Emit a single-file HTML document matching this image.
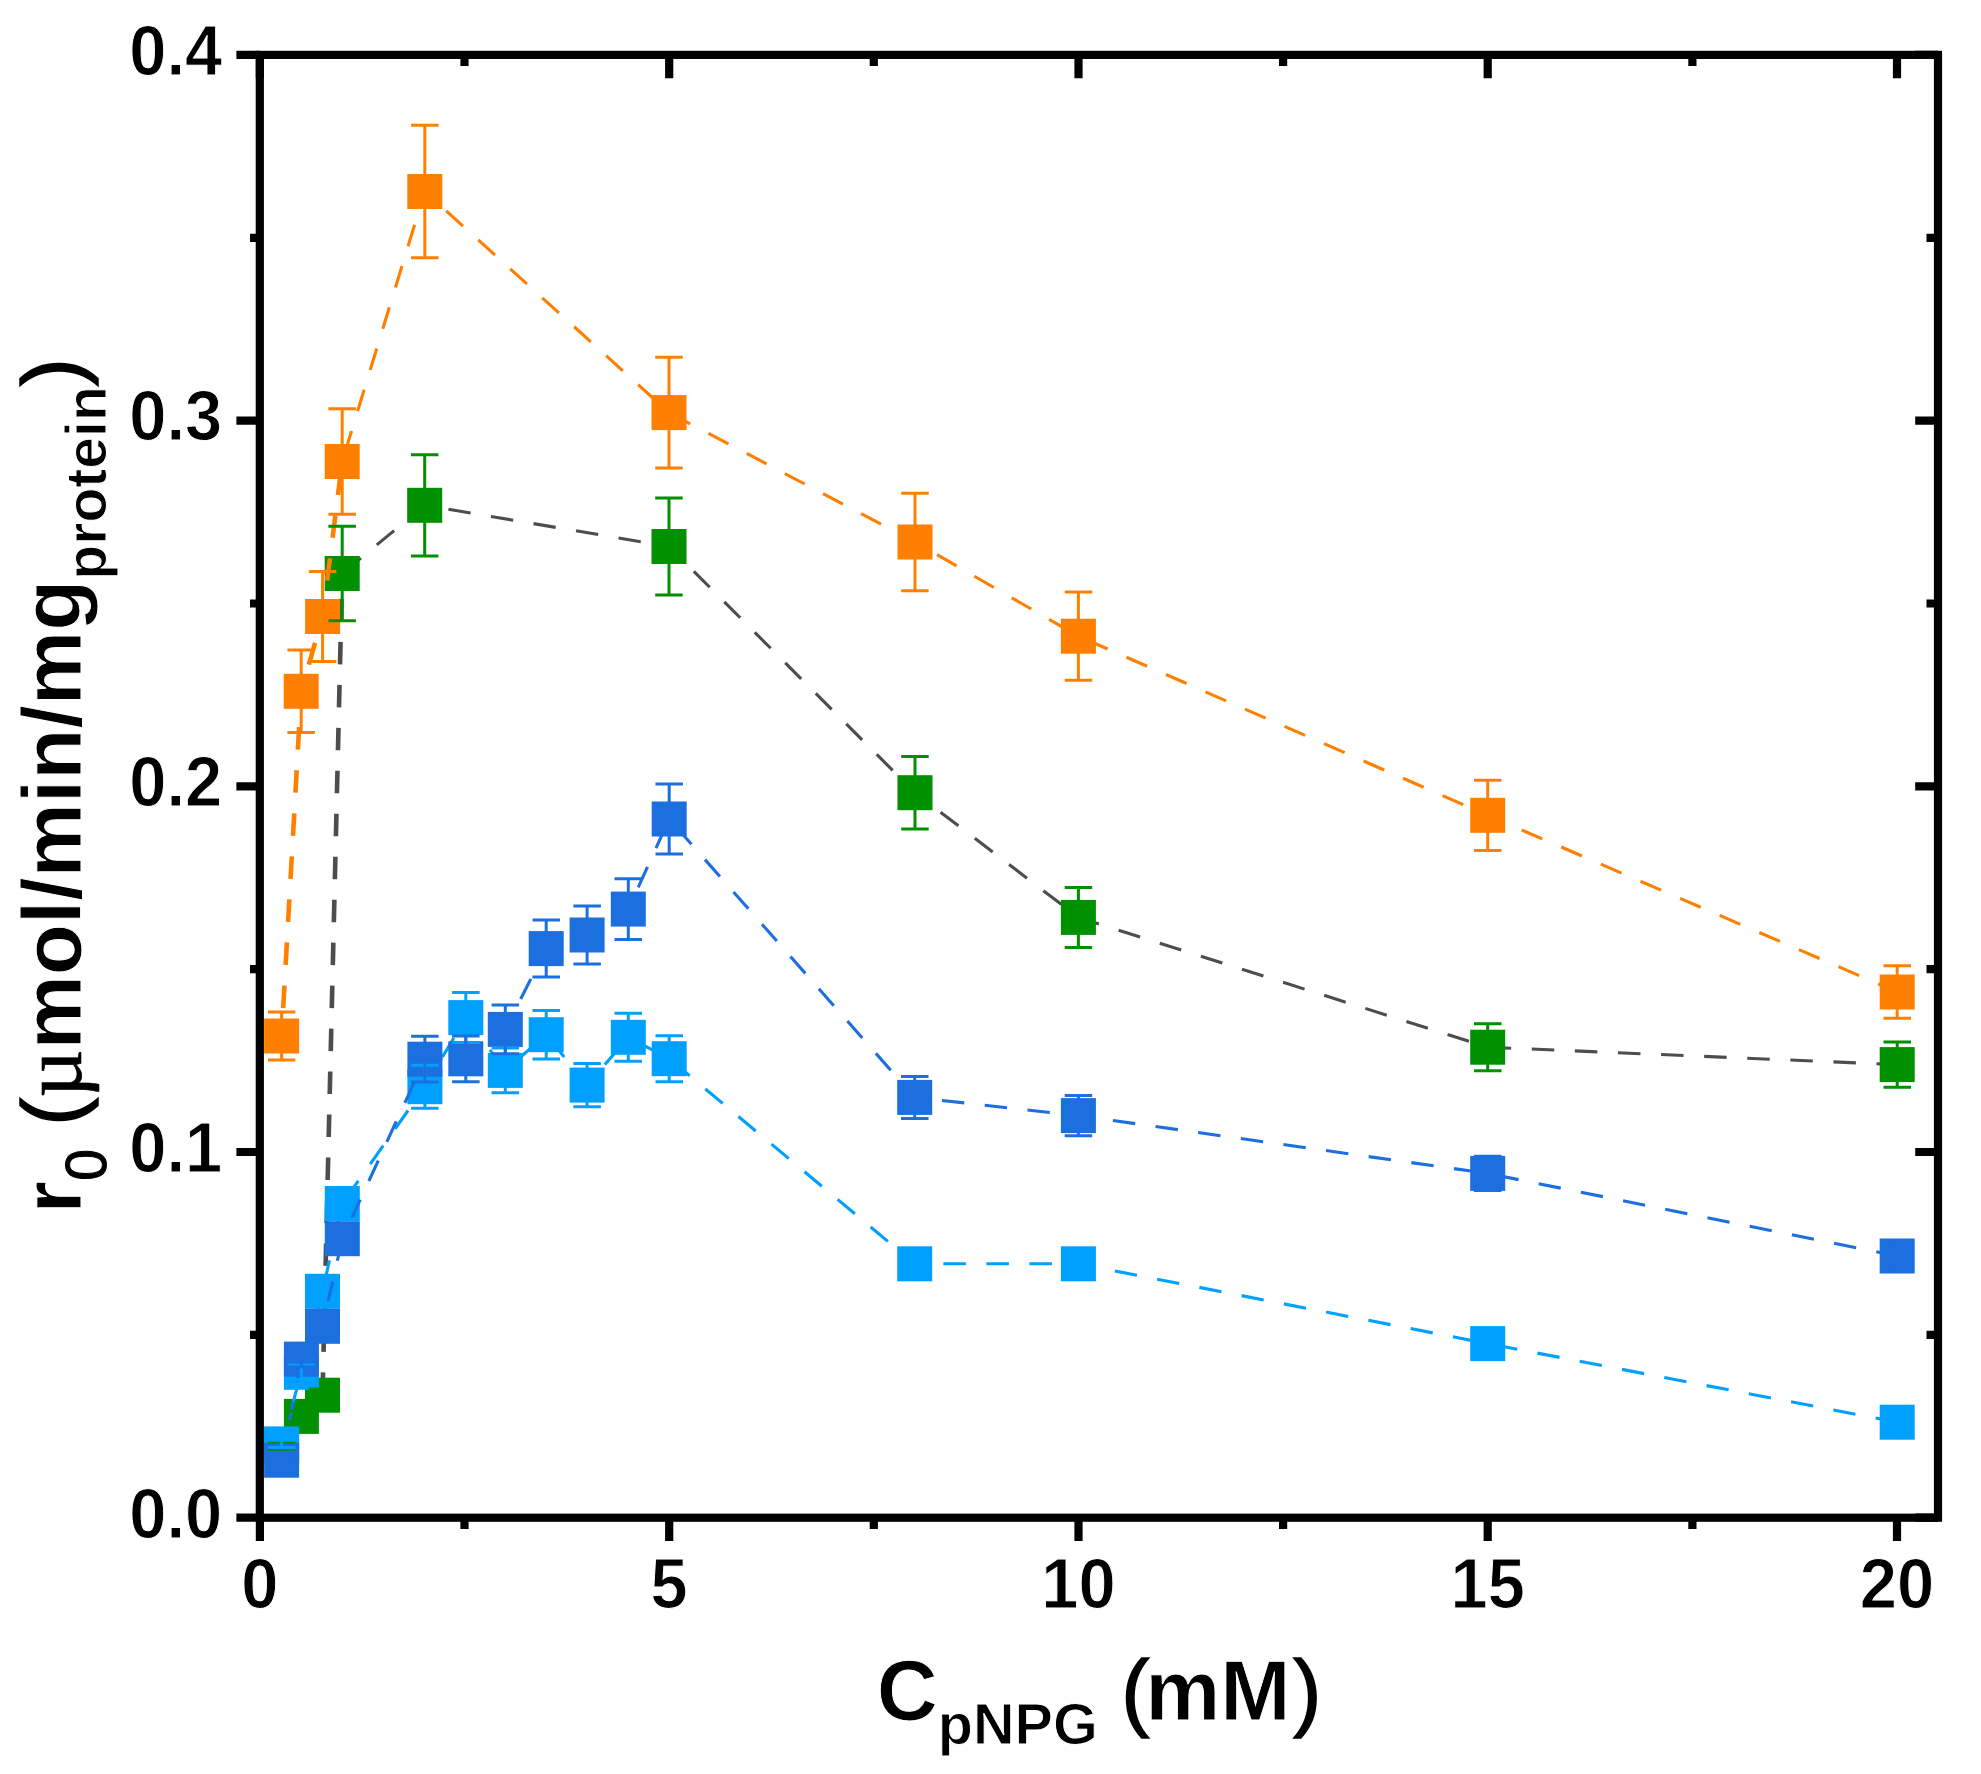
<!DOCTYPE html>
<html lang="en"><head><meta charset="utf-8"><title>r0 vs C pNPG</title>
<style>html,body{margin:0;padding:0;background:#fff}svg{display:block}text{font-family:"Liberation Sans",Arial,Helvetica,sans-serif;font-weight:700;fill:#000;stroke:#fff;stroke-width:1px}.pr{font-weight:400;stroke:#000;stroke-width:1.5px}.s0{font-weight:400;stroke:#000;stroke-width:1px}.mu{font-family:"Liberation Serif","DejaVu Serif",serif;font-weight:400;stroke:#000;stroke-width:0.6px}</style>
</head><body>
<svg width="1981" height="1774" viewBox="0 0 1981 1774">
<rect x="0" y="0" width="1981" height="1774" fill="#fff"/>
<g id="green">
<polyline points="281.6,1445.6 301.4,1416.4 322.5,1395.2 342.2,573.5" fill="none" stroke="#4d4d4d" stroke-width="4.6" stroke-dasharray="22.5 20.48" stroke-dashoffset="20.4"/>
<polyline points="342.2,573.5 424.7,505.3 669.0,546.5 915.0,792.7 1078.4,917.4 1487.7,1047.2 1897.2,1064.6" fill="none" stroke="#4d4d4d" stroke-width="3.1" stroke-dasharray="22.5 20.63" stroke-dashoffset="41.4"/>
<rect x="264.1" y="1428.1" width="35.0" height="35.0" fill="#009000"/>
<rect x="283.9" y="1398.9" width="35.0" height="35.0" fill="#009000"/>
<rect x="305.0" y="1377.7" width="35.0" height="35.0" fill="#009000"/>
<rect x="324.7" y="556.0" width="35.0" height="35.0" fill="#009000"/>
<rect x="407.2" y="487.8" width="35.0" height="35.0" fill="#009000"/>
<rect x="651.5" y="529.0" width="35.0" height="35.0" fill="#009000"/>
<rect x="897.5" y="775.2" width="35.0" height="35.0" fill="#009000"/>
<rect x="1060.9" y="899.9" width="35.0" height="35.0" fill="#009000"/>
<rect x="1470.2" y="1029.7" width="35.0" height="35.0" fill="#009000"/>
<rect x="1879.7" y="1047.1" width="35.0" height="35.0" fill="#009000"/>
</g>
<g id="orange">
<polyline points="281.6,1036.0 301.2,691.3 322.6,616.5 342.2,461.5" fill="none" stroke="#ff8000" stroke-width="4.6" stroke-dasharray="22.5 20.63" stroke-dashoffset="15.1"/>
<polyline points="342.2,461.5 424.8,191.5 669.0,412.6 915.0,542.0 1078.4,636.2 1487.7,815.3 1897.2,992.0" fill="none" stroke="#ff8000" stroke-width="3.1" stroke-dasharray="22.5 20.63" stroke-dashoffset="33.7"/>
<rect x="264.1" y="1018.5" width="35.0" height="35.0" fill="#ff8000"/>
<rect x="283.7" y="673.8" width="35.0" height="35.0" fill="#ff8000"/>
<rect x="305.1" y="599.0" width="35.0" height="35.0" fill="#ff8000"/>
<rect x="324.7" y="444.0" width="35.0" height="35.0" fill="#ff8000"/>
<rect x="407.3" y="174.0" width="35.0" height="35.0" fill="#ff8000"/>
<rect x="651.5" y="395.1" width="35.0" height="35.0" fill="#ff8000"/>
<rect x="897.5" y="524.5" width="35.0" height="35.0" fill="#ff8000"/>
<rect x="1060.9" y="618.7" width="35.0" height="35.0" fill="#ff8000"/>
<rect x="1470.2" y="797.8" width="35.0" height="35.0" fill="#ff8000"/>
<rect x="1879.7" y="974.5" width="35.0" height="35.0" fill="#ff8000"/>
</g>
<g id="lblue">
<polyline points="281.6,1443.9 301.4,1372.3 322.5,1291.3 342.3,1203.5 424.9,1086.7 465.8,1017.6 505.3,1070.4 546.2,1034.7 587.1,1085.1 628.3,1037.3 669.2,1058.7 914.7,1263.8 1078.4,1263.8 1487.7,1343.6 1897.2,1422.2" fill="none" stroke="#00a0ff" stroke-width="3.1" stroke-dasharray="22.5 20.55" stroke-dashoffset="5.0"/>
<rect x="264.1" y="1426.4" width="35.0" height="35.0" fill="#00a0ff"/>
<rect x="283.9" y="1354.8" width="35.0" height="35.0" fill="#00a0ff"/>
<rect x="305.0" y="1273.8" width="35.0" height="35.0" fill="#00a0ff"/>
<rect x="324.8" y="1186.0" width="35.0" height="35.0" fill="#00a0ff"/>
<rect x="407.4" y="1069.2" width="35.0" height="35.0" fill="#00a0ff"/>
<rect x="448.3" y="1000.1" width="35.0" height="35.0" fill="#00a0ff"/>
<rect x="487.8" y="1052.9" width="35.0" height="35.0" fill="#00a0ff"/>
<rect x="528.7" y="1017.2" width="35.0" height="35.0" fill="#00a0ff"/>
<rect x="569.6" y="1067.6" width="35.0" height="35.0" fill="#00a0ff"/>
<rect x="610.8" y="1019.8" width="35.0" height="35.0" fill="#00a0ff"/>
<rect x="651.7" y="1041.2" width="35.0" height="35.0" fill="#00a0ff"/>
<rect x="897.2" y="1246.3" width="35.0" height="35.0" fill="#00a0ff"/>
<rect x="1060.9" y="1246.3" width="35.0" height="35.0" fill="#00a0ff"/>
<rect x="1470.2" y="1326.1" width="35.0" height="35.0" fill="#00a0ff"/>
<rect x="1879.7" y="1404.7" width="35.0" height="35.0" fill="#00a0ff"/>
</g>
<g id="dblue">
<polyline points="281.6,1460.2 301.4,1359.1 322.5,1326.3 342.3,1238.7 424.9,1059.2 465.8,1058.8 505.3,1029.4 546.2,948.6 587.1,935.0 628.3,909.1 669.2,819.0 914.7,1097.4 1078.4,1115.6 1487.7,1173.4 1897.2,1256.0" fill="none" stroke="#1c6fde" stroke-width="3.1" stroke-dasharray="22.5 20.55" stroke-dashoffset="6.0"/>
<rect x="264.1" y="1442.7" width="35.0" height="35.0" fill="#1c6fde"/>
<rect x="283.9" y="1341.6" width="35.0" height="35.0" fill="#1c6fde"/>
<rect x="305.0" y="1308.8" width="35.0" height="35.0" fill="#1c6fde"/>
<rect x="324.8" y="1221.2" width="35.0" height="35.0" fill="#1c6fde"/>
<rect x="407.4" y="1041.7" width="35.0" height="35.0" fill="#1c6fde"/>
<rect x="448.3" y="1041.3" width="35.0" height="35.0" fill="#1c6fde"/>
<rect x="487.8" y="1011.9" width="35.0" height="35.0" fill="#1c6fde"/>
<rect x="528.7" y="931.1" width="35.0" height="35.0" fill="#1c6fde"/>
<rect x="569.6" y="917.5" width="35.0" height="35.0" fill="#1c6fde"/>
<rect x="610.8" y="891.6" width="35.0" height="35.0" fill="#1c6fde"/>
<rect x="651.7" y="801.5" width="35.0" height="35.0" fill="#1c6fde"/>
<rect x="897.2" y="1079.9" width="35.0" height="35.0" fill="#1c6fde"/>
<rect x="1060.9" y="1098.1" width="35.0" height="35.0" fill="#1c6fde"/>
<rect x="1470.2" y="1155.9" width="35.0" height="35.0" fill="#1c6fde"/>
<rect x="1879.7" y="1238.5" width="35.0" height="35.0" fill="#1c6fde"/>
</g>
<g id="green-err" stroke="#009000" stroke-width="3.0" fill="none">
<path d="M281.6 1442.0V1449.2M267.9 1442.0h27.5M267.9 1449.2h27.5M301.4 1411.3V1421.5M287.6 1411.3h27.5M287.6 1421.5h27.5M322.5 1389.1V1401.3M308.8 1389.1h27.5M308.8 1401.3h27.5M342.2 526.3V620.7M328.4 526.3h27.5M328.4 620.7h27.5M424.7 454.7V555.9M410.9 454.7h27.5M410.9 555.9h27.5M669.0 497.9V595.1M655.2 497.9h27.5M655.2 595.1h27.5M915.0 756.5V829.0M901.2 756.5h27.5M901.2 829.0h27.5M1078.4 887.4V947.4M1064.7 887.4h27.5M1064.7 947.4h27.5M1487.7 1023.7V1070.7M1474.0 1023.7h27.5M1474.0 1070.7h27.5M1897.2 1041.9V1087.3M1883.5 1041.9h27.5M1883.5 1087.3h27.5"/>
</g>
<g id="orange-err" stroke="#ff8000" stroke-width="3.0" fill="none">
<path d="M281.6 1011.9V1060.1M267.9 1011.9h27.5M267.9 1060.1h27.5M301.2 650.0V732.6M287.4 650.0h27.5M287.4 732.6h27.5M322.6 571.4V661.6M308.9 571.4h27.5M308.9 661.6h27.5M342.2 408.7V514.3M328.4 408.7h27.5M328.4 514.3h27.5M424.8 125.2V257.8M411.1 125.2h27.5M411.1 257.8h27.5M669.0 357.3V467.9M655.2 357.3h27.5M655.2 467.9h27.5M915.0 493.2V590.8M901.2 493.2h27.5M901.2 590.8h27.5M1078.4 592.1V680.3M1064.7 592.1h27.5M1064.7 680.3h27.5M1487.7 780.2V850.4M1474.0 780.2h27.5M1474.0 850.4h27.5M1897.2 965.7V1018.3M1883.5 965.7h27.5M1883.5 1018.3h27.5"/>
</g>
<g id="lblue-err" stroke="#00a0ff" stroke-width="3.0" fill="none">
<path d="M281.6 1440.2V1447.6M267.9 1440.2h27.5M267.9 1447.6h27.5M301.4 1365.0V1379.6M287.6 1365.0h27.5M287.6 1379.6h27.5M322.5 1280.0V1302.6M308.8 1280.0h27.5M308.8 1302.6h27.5M342.3 1187.8V1219.2M328.6 1187.8h27.5M328.6 1219.2h27.5M424.9 1065.2V1108.2M411.1 1065.2h27.5M411.1 1108.2h27.5M465.8 992.6V1042.6M452.1 992.6h27.5M452.1 1042.6h27.5M505.3 1048.0V1092.8M491.6 1048.0h27.5M491.6 1092.8h27.5M546.2 1010.6V1058.9M532.5 1010.6h27.5M532.5 1058.9h27.5M587.1 1063.5V1106.7M573.4 1063.5h27.5M573.4 1106.7h27.5M628.3 1013.3V1061.3M614.5 1013.3h27.5M614.5 1061.3h27.5M669.2 1035.8V1081.7M655.5 1035.8h27.5M655.5 1081.7h27.5M914.7 1251.1V1276.5M901.0 1251.1h27.5M901.0 1276.5h27.5M1078.4 1251.1V1276.5M1064.7 1251.1h27.5M1064.7 1276.5h27.5M1487.7 1334.9V1352.3M1474.0 1334.9h27.5M1474.0 1352.3h27.5M1897.2 1417.4V1427.0M1883.5 1417.4h27.5M1883.5 1427.0h27.5"/>
</g>
<g id="dblue-err" stroke="#1c6fde" stroke-width="3.0" fill="none">
<path d="M281.6 1457.3V1463.1M267.9 1457.3h27.5M267.9 1463.1h27.5M301.4 1351.2V1367.0M287.6 1351.2h27.5M287.6 1367.0h27.5M322.5 1316.7V1335.9M308.8 1316.7h27.5M308.8 1335.9h27.5M342.3 1224.8V1252.7M328.6 1224.8h27.5M328.6 1252.7h27.5M424.9 1036.3V1082.1M411.1 1036.3h27.5M411.1 1082.1h27.5M465.8 1035.9V1081.7M452.1 1035.9h27.5M452.1 1081.7h27.5M505.3 1005.0V1053.8M491.6 1005.0h27.5M491.6 1053.8h27.5M546.2 920.1V977.1M532.5 920.1h27.5M532.5 977.1h27.5M587.1 905.9V964.1M573.4 905.9h27.5M573.4 964.1h27.5M628.3 878.7V939.5M614.5 878.7h27.5M614.5 939.5h27.5M669.2 784.1V853.9M655.5 784.1h27.5M655.5 853.9h27.5M914.7 1076.4V1118.4M901.0 1076.4h27.5M901.0 1118.4h27.5M1078.4 1095.5V1135.7M1064.7 1095.5h27.5M1064.7 1135.7h27.5M1487.7 1156.2V1190.6M1474.0 1156.2h27.5M1474.0 1190.6h27.5M1897.2 1242.9V1269.1M1883.5 1242.9h27.5M1883.5 1269.1h27.5"/>
</g>
<g id="axes" stroke="#000" stroke-width="8.2" fill="none">
<rect x="259.8" y="54.9" width="1678.2" height="1462.8"/>
<path d="M259.9 1517.7V1541M259.9 54.9V78.2M669.2 1517.7V1541M669.2 54.9V78.2M1078.5 1517.7V1541M1078.5 54.9V78.2M1487.7 1517.7V1541M1487.7 54.9V78.2M1897.0 1517.7V1541M1897.0 54.9V78.2M464.5 1517.7V1529M464.5 54.9V66M873.8 1517.7V1529M873.8 54.9V66M1283.1 1517.7V1529M1283.1 54.9V66M1692.4 1517.7V1529M1692.4 54.9V66M259.8 1517.7H236.4M1938.0 1517.7H1915.2M259.8 1152.0H236.4M1938.0 1152.0H1915.2M259.8 786.3H236.4M1938.0 786.3H1915.2M259.8 420.6H236.4M1938.0 420.6H1915.2M259.8 54.9H236.4M1938.0 54.9H1915.2M259.8 1334.8H250M1938.0 1334.8H1926.5M259.8 969.2H250M1938.0 969.2H1926.5M259.8 603.5H250M1938.0 603.5H1926.5M259.8 237.8H250M1938.0 237.8H1926.5"/>
</g>
<g id="xticklabels" font-size="70" text-anchor="middle">
<text transform="translate(259.9,1608.4) scale(0.955,1)">0</text>
<text transform="translate(669.2,1608.4) scale(0.955,1)">5</text>
<text transform="translate(1078.5,1608.4) scale(0.955,1)">10</text>
<text transform="translate(1487.7,1608.4) scale(0.955,1)">15</text>
<text transform="translate(1897.0,1608.4) scale(0.955,1)">20</text>
</g>
<g id="yticklabels" font-size="70" text-anchor="end">
<text transform="translate(222.3,1537.5) scale(0.955,1)">0.0</text>
<text transform="translate(222.3,1171.8) scale(0.955,1)">0.1</text>
<text transform="translate(222.3,806.1) scale(0.955,1)">0.2</text>
<text transform="translate(222.3,440.4) scale(0.955,1)">0.3</text>
<text transform="translate(222.3,74.7) scale(0.955,1)">0.4</text>
</g>
<text id="xtitle" transform="translate(876.8,1720) scale(1,1.0)" font-size="84.4">C<tspan font-size="57.6" dy="23.8">pNPG</tspan><tspan dy="-23.8"> </tspan><tspan class="pr">(</tspan><tspan dx="-4">mM</tspan><tspan class="pr" dx="2.5">)</tspan></text>
<text id="ytitle" transform="translate(81.4,1213.4) rotate(-90) scale(1,1.0)" font-size="83.75">r<tspan class="s0" font-size="57.1" dy="24.7">0</tspan><tspan dy="-24.7"> </tspan><tspan class="pr">(</tspan><tspan class="mu">µ</tspan>mol/min/mg<tspan font-size="57.1" dy="24.7">protein</tspan><tspan class="pr" dy="-24.7">)</tspan></text>
</svg>
</body></html>
